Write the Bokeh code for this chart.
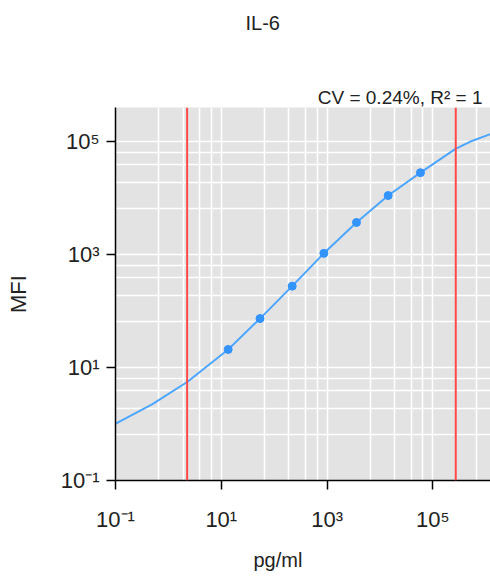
from bokeh.plotting import figure
from bokeh.models import FixedTicker, Span, Title, Range1d
from bokeh.embed import file_html
from bokeh.resources import INLINE

# ---- data ----
title_text = "IL-6"
fit_text = "CV = 0.24%, R² = 1"
x_label = "pg/ml"
y_label = "MFI"

std_conc = [13.5, 54, 219, 870, 3600, 14300, 58300]
std_mfi = [21, 74, 278, 1060, 3740, 11200, 28500]

curve_conc = [0.101, 0.50, 2.30, 13.5, 54, 219, 870, 3600, 14300, 58300, 268000, 562000, 1230000]
curve_mfi = [1.02, 2.25, 5.62, 21, 74, 278, 1060, 3740, 11200, 28500, 75000, 105000, 138000]

loq_lines = [2.26, 271000]

major_ticks = [0.1, 10, 1000, 100000]
tick_labels = {0.1: "10⁻¹", 10: "10¹", 1000: "10³", 100000: "10⁵"}
grid_steps = [1, 6.6, 19, 39, 65]

FONT = "'Liberation Sans', Arial, sans-serif"
TXT = "#222222"

grid_vals = [m * s for m in major_ticks for s in grid_steps]

p = figure(width=490, height=578, x_axis_type="log", y_axis_type="log",
           x_range=Range1d(0.1, 1.23e6), y_range=Range1d(0.1, 4.07e5),
           output_backend="svg", toolbar_location=None, title=None,
           min_border_left=115, min_border_right=0, min_border_top=105, min_border_bottom=98)
p.outline_line_color = None
p.background_fill_color = "#E3E3E3"
p.border_fill_color = "white"

for ax in (p.xaxis[0], p.yaxis[0]):
    ax.ticker = FixedTicker(ticks=major_ticks, minor_ticks=[])
    ax.major_label_overrides = tick_labels
    ax.major_tick_out = 9
    ax.major_tick_in = 0
    ax.minor_tick_out = 0
    ax.minor_tick_in = 0
    ax.axis_line_width = 1.5
    ax.axis_line_color = "black"
    ax.major_tick_line_width = 1.5
    ax.major_label_text_font = FONT
    ax.major_label_text_font_size = "22px"
    ax.major_label_text_color = TXT
    ax.axis_label_text_font = FONT
    ax.axis_label_text_font_style = "normal"
    ax.axis_label_text_color = TXT

p.xaxis.major_label_standoff = 17

p.yaxis.major_label_standoff = 7
p.yaxis.axis_label = y_label
p.yaxis.axis_label_text_font_size = "22px"
p.yaxis.axis_label_standoff = 27

for g in (p.xgrid[0], p.ygrid[0]):
    g.ticker = FixedTicker(ticks=grid_vals, minor_ticks=[])
    g.grid_line_color = "white"
    g.grid_line_width = 1.6
    g.minor_grid_line_color = None

for v in loq_lines:
    p.add_layout(Span(location=v, dimension="height", line_color="#FF4A4A", line_width=2))

p.line(curve_conc, curve_mfi, line_color="#4DA6FF", line_width=2)
p.scatter(std_conc, std_mfi, size=8, fill_color="#3393FF", line_color="#3393FF")


def title(text, size, standoff, align="left", offset=0):
    return Title(text=text, align=align, offset=offset, standoff=standoff,
                 text_font=FONT, text_font_size=size, text_font_style="normal",
                 text_color=TXT)


# above panel: stacked outward from the frame
p.add_layout(title(fit_text, "19px", 0, align="right", offset=8), "above")
p.add_layout(title(" ", "2px", 37), "above")
p.add_layout(title(title_text, "20px", 19, offset=130), "above")

# below panel: axis, spacer, then the x label
p.add_layout(title(" ", "2px", 3), "below")
p.add_layout(title(x_label, "20px", 11, offset=138), "below")

open("out.html", "w").write(file_html(p, INLINE))
